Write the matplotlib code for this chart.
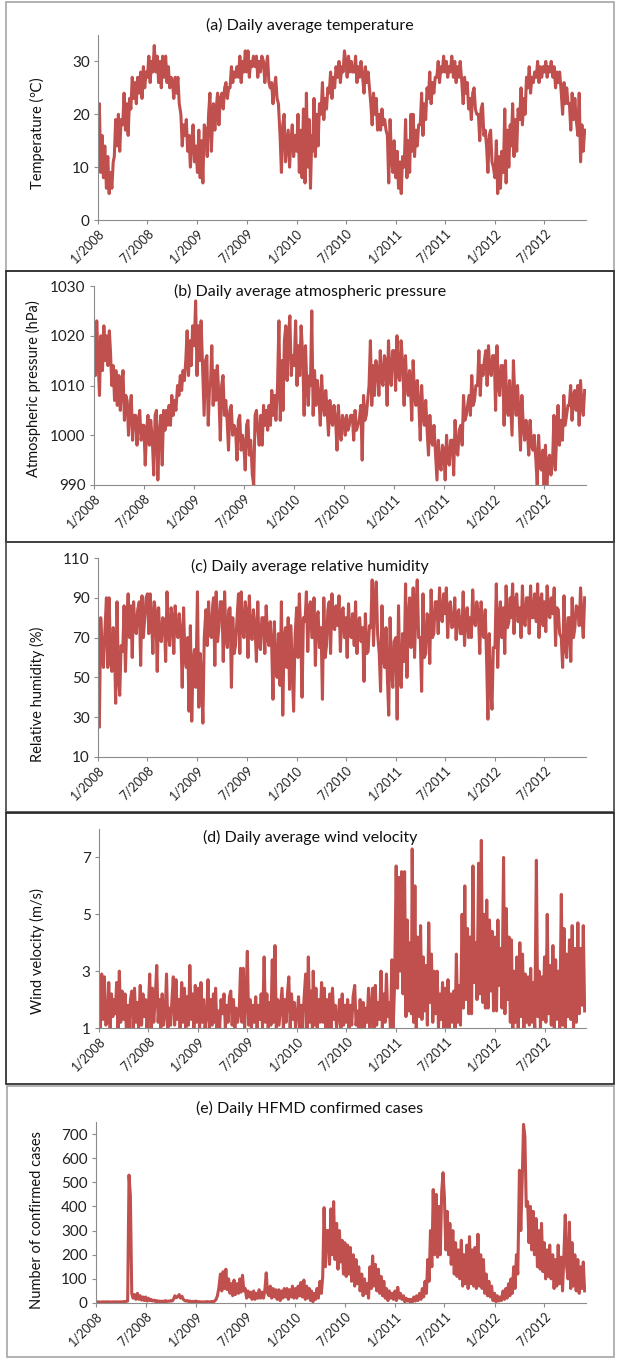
import pandas as pd
import matplotlib
matplotlib.use('Agg')
import matplotlib.pyplot as plt
from matplotlib.patches import Rectangle

plt.rcParams['font.family'] = ['Lato', 'DejaVu Sans']

# 6 readings per month (every 5 days), Jan 2008 .. Nov 2012
months = pd.date_range('2008-01-01', '2012-11-01', freq='MS')
day_offsets = [0, 5, 10, 15, 20, 25]

temperature = [
    12, 22, 9, 16, 8, 14,  6, 12, 5, 9, 6, 11,  12, 19, 14, 20, 13, 19,
    18, 24, 17, 22, 16, 23,  21, 27, 23, 26, 22, 27,  24, 28, 23, 29, 25, 28,
    27, 31, 26, 30, 28, 33,  28, 31, 26, 30, 25, 31,  27, 31, 26, 29, 25, 27,
    26, 23, 27, 24, 27, 22,  20, 14, 18, 16, 19, 13,  16, 10, 15, 18, 11, 14,
    9, 17, 8, 15, 7, 18,  17, 12, 20, 24, 13, 19,  22, 17, 21, 24, 18, 23,
    24, 21, 25, 26, 23, 25,  25, 29, 26, 28, 27, 29,  27, 31, 26, 30, 28, 32,
    28, 32, 27, 30, 29, 31,  29, 31, 27, 30, 28, 31,  30, 26, 29, 31, 26, 25,
    26, 22, 25, 27, 23, 22,  16, 9, 18, 20, 11, 14,  17, 10, 15, 18, 12, 16,
    13, 20, 9, 17, 8, 21,  7, 24, 10, 19, 6, 16,  13, 23, 12, 20, 14, 22,
    20, 26, 19, 23, 21, 25,  24, 28, 23, 27, 25, 29,  27, 30, 26, 29, 28, 32,
    30, 27, 31, 28, 30, 28,  28, 31, 26, 29, 27, 30,  27, 24, 29, 26, 28, 25,
    22, 18, 24, 20, 23, 17,  20, 17, 21, 18, 19, 17,  16, 7, 19, 12, 9, 15,
    8, 13, 6, 11, 5, 12,  10, 19, 8, 15, 9, 20,  13, 20, 12, 17, 14, 18,
    18, 24, 16, 22, 19, 25,  23, 28, 22, 26, 24, 27,  27, 30, 26, 29, 28, 31,
    28, 30, 27, 29, 28, 31,  27, 30, 26, 29, 27, 30,  26, 22, 27, 24, 26, 21,
    23, 19, 24, 25, 21, 20,  20, 15, 21, 22, 16, 17,  14, 9, 16, 17, 11, 10,
    8, 15, 5, 12, 6, 13,  9, 21, 7, 17, 10, 18,  14, 22, 12, 19, 13, 21,
    19, 25, 18, 23, 20, 27,  25, 29, 24, 27, 26, 28,  27, 30, 26, 29, 27, 29,
    28, 30, 27, 29, 28, 30,  27, 29, 25, 28, 26, 28,  24, 20, 26, 22, 25, 22,
    22, 17, 24, 19, 23, 19,  16, 24, 11, 18, 13, 17,
]

pressure = [
    1022, 1012, 1023, 1015, 1008, 1020,  1013, 1022, 1015, 1020, 1014, 1021,
    1017, 1010, 1014, 1007, 1013, 1006,  1012, 1005, 1010, 1013, 1003, 1008,
    1007, 1000, 1005, 1008, 999, 1004,  1004, 998, 1003, 1005, 999, 1002,
    1002, 994, 1001, 1004, 998, 1003,  999, 992, 1004, 1005, 991, 1000,
    1004, 994, 1005, 1001, 1005, 1002,  1006, 1002, 1008, 1004, 1007, 1005,
    1010, 1008, 1012, 1009, 1013, 1011,  1015, 1021, 1012, 1019, 1014, 1022,
    1018, 1027, 1012, 1022, 1015, 1023,  1013, 1004, 1015, 1016, 1002, 1010,
    1010, 1018, 1006, 1013, 1007, 1014,  1008, 999, 1010, 1012, 1004, 1007,
    1003, 997, 1005, 1006, 1000, 1002,  1001, 995, 1003, 1004, 997, 1000,
    998, 993, 1002, 1003, 996, 999,  992, 990, 1004, 1005, 1001, 998,
    1004, 998, 1006, 1002, 1005, 1001,  1006, 1002, 1009, 1004, 1008, 1003,
    1010, 1023, 1003, 1015, 1005, 1019,  1022, 1011, 1020, 1024, 1012, 1016,
    1014, 1023, 1010, 1018, 1012, 1022,  1016, 1004, 1018, 1010, 1006, 1012,
    1010, 1025, 1004, 1013, 1006, 1011,  1008, 1002, 1012, 1006, 1004, 1009,
    1005, 1000, 1007, 1003, 1002, 1006,  1003, 997, 1006, 1001, 999, 1004,
    1003, 1000, 1004, 1001, 1002, 1004,  1004, 999, 1005, 1001, 1002, 1003,
    1006, 995, 1008, 1003, 1004, 1007,  1010, 1019, 1006, 1014, 1008, 1015,
    1013, 1008, 1017, 1011, 1010, 1016,  1015, 1006, 1019, 1012, 1010, 1017,
    1017, 1009, 1020, 1012, 1011, 1019,  1014, 1006, 1016, 1010, 1008, 1013,
    1010, 1003, 1015, 1008, 1006, 1011,  1006, 999, 1010, 1004, 1002, 1007,
    1001, 996, 1004, 999, 998, 1002,  996, 991, 999, 994, 993, 998,
    997, 991, 1000, 995, 994, 999,  999, 992, 1003, 997, 996, 1001,
    1002, 998, 1008, 1003, 1004, 1006,  1008, 1004, 1012, 1006, 1007, 1010,
    1010, 1017, 1008, 1014, 1012, 1015,  1017, 1010, 1018, 1013, 1012, 1016,
    1016, 1005, 1018, 1010, 1008, 1014,  1014, 1002, 1015, 1006, 1004, 1011,
    1006, 1000, 1015, 1008, 1004, 1010,  1004, 997, 1008, 1002, 999, 1003,
    1001, 996, 1003, 998, 997, 1000,  995, 990, 1000, 994, 993, 997,
    990, 998, 989, 995, 996, 992,  995, 1004, 993, 1000, 1006, 998,
    1003, 999, 1008, 1002, 1004, 1006,  1006, 1010, 1003, 1008, 1009, 1005,
    1010, 1002, 1011, 1006, 1004, 1009,
]

humidity = [
    74, 25, 80, 65, 55, 72,  90, 55, 90, 60, 53, 75,  70, 37, 88, 50, 41, 66,
    63, 86, 53, 78, 92, 70,  86, 60, 88, 75, 72, 84,  88, 56, 91, 70, 80, 90,
    92, 72, 92, 80, 62, 88,  82, 53, 85, 70, 68, 80,  79, 58, 93, 72, 66, 85,
    80, 62, 86, 74, 70, 82,  72, 45, 85, 60, 55, 70,  33, 76, 28, 58, 64, 45,
    93, 35, 62, 50, 27, 70,  84, 66, 88, 72, 70, 86,  90, 56, 93, 68, 75, 88,
    88, 58, 93, 70, 65, 84,  85, 45, 80, 62, 66, 78,  92, 62, 93, 75, 70, 88,
    82, 60, 91, 72, 69, 84,  75, 58, 88, 66, 64, 80,  80, 62, 86, 70, 66, 78,
    67, 39, 78, 55, 50, 72,  46, 88, 31, 70, 75, 55,  80, 44, 76, 55, 33, 70,
    85, 60, 92, 72, 40, 80,  78, 93, 63, 85, 88, 70,  70, 90, 56, 80, 83, 65,
    75, 39, 90, 60, 66, 84,  88, 62, 92, 75, 74, 86,  76, 91, 63, 82, 85, 70,
    80, 60, 87, 72, 70, 82,  66, 88, 62, 78, 80, 68,  75, 48, 82, 62, 63, 76,
    75, 99, 66, 88, 98, 72,  62, 43, 86, 60, 55, 75,  50, 31, 80, 55, 45, 68,
    70, 29, 86, 50, 45, 72,  58, 97, 50, 80, 90, 65,  75, 95, 60, 85, 99, 70,
    70, 43, 92, 60, 62, 82,  80, 57, 94, 70, 72, 88,  88, 72, 95, 80, 78, 92,
    82, 95, 70, 86, 88, 75,  76, 90, 69, 82, 84, 72,  72, 93, 66, 80, 85, 70,
    80, 70, 94, 78, 76, 88,  82, 62, 88, 72, 70, 84,  60, 29, 72, 45, 34, 65,
    65, 97, 55, 80, 88, 70,  85, 62, 96, 75, 78, 90,  80, 97, 72, 88, 92, 78,
    85, 70, 96, 78, 76, 90,  90, 72, 96, 80, 80, 92,  78, 97, 70, 88, 92, 76,
    88, 73, 96, 82, 80, 90,  82, 95, 66, 85, 84, 72,  70, 55, 91, 65, 60, 80,
    80, 58, 90, 70, 75, 86,  85, 76, 95, 80, 70, 90,
]

wind = [
    1.9, 1.0, 2.9, 1.3, 2.8, 1.1,  1.2, 2.6, 1.0, 2.2, 1.4, 2.0,  1.5, 2.6, 1.0, 3.0, 1.2, 2.3,
    1.3, 2.2, 0.9, 1.8, 1.0, 2.0,  2.3, 1.0, 2.4, 1.2, 1.9, 1.0,  2.5, 1.1, 2.2, 1.4, 2.0, 1.0,
    1.6, 2.9, 1.0, 2.4, 1.2, 2.0,  3.2, 1.2, 2.0, 0.9, 2.2, 1.1,  1.5, 2.9, 1.0, 1.7, 1.1, 2.0,
    2.8, 1.1, 2.7, 1.3, 2.0, 1.0,  2.6, 1.2, 2.4, 1.0, 2.1, 1.1,  3.2, 1.3, 2.2, 1.0, 2.5, 1.2,
    2.4, 0.9, 2.6, 1.2, 2.0, 1.0,  1.4, 2.7, 1.0, 2.0, 1.1, 2.2,  1.2, 2.4, 0.9, 1.6, 1.0, 2.0,
    1.5, 2.2, 1.0, 1.8, 1.2, 2.1,  2.3, 1.1, 2.0, 1.0, 1.7, 1.2,  1.6, 3.1, 1.2, 3.1, 1.0, 2.0,
    3.7, 1.1, 2.0, 1.0, 1.8, 1.2,  2.1, 1.0, 1.8, 1.3, 2.2, 1.0,  3.5, 1.2, 2.2, 1.0, 1.9, 1.1,
    3.4, 1.2, 3.9, 1.0, 2.0, 1.1,  1.8, 2.4, 1.0, 2.0, 1.2, 2.2,  2.8, 1.0, 2.2, 1.3, 1.9, 1.0,
    1.5, 2.1, 0.9, 1.8, 1.0, 2.0,  2.9, 1.0, 3.5, 1.2, 2.3, 1.0,  3.0, 1.1, 2.4, 1.0, 2.0, 1.2,
    2.6, 1.2, 2.4, 0.9, 2.0, 1.0,  2.2, 1.0, 2.4, 1.3, 1.8, 1.0,  1.4, 2.0, 1.0, 2.2, 1.1, 1.8,
    1.2, 2.0, 1.0, 1.8, 1.1, 2.1,  2.5, 1.1, 1.6, 0.9, 2.0, 1.0,  1.9, 1.0, 1.7, 1.2, 2.4, 1.0,
    1.6, 2.4, 1.0, 2.5, 1.1, 1.9,  1.3, 3.0, 1.0, 2.2, 1.2, 2.9,  1.4, 1.9, 0.9, 3.4, 1.0, 2.5,
    6.7, 2.4, 6.3, 3.0, 6.5, 2.2,  6.5, 1.4, 4.8, 1.6, 4.0, 1.5,  7.3, 1.2, 6.0, 0.9, 4.2, 1.4,
    4.6, 1.3, 3.5, 1.6, 3.2, 1.1,  4.7, 1.9, 3.6, 1.2, 3.0, 1.5,  3.0, 1.0, 2.2, 1.3, 2.6, 0.9,
    2.4, 0.9, 2.7, 1.0, 2.2, 1.2,  2.3, 1.0, 3.6, 1.2, 2.5, 1.1,  5.0, 1.7, 6.0, 2.0, 4.5, 1.5,
    4.2, 1.5, 6.7, 2.6, 4.0, 2.0,  6.8, 2.2, 7.6, 1.9, 5.0, 1.7,  5.5, 1.7, 4.8, 2.3, 4.4, 1.6,
    4.2, 1.6, 4.8, 2.5, 3.8, 1.7,  7.0, 1.5, 5.2, 2.0, 4.2, 1.2,  4.1, 0.9, 3.0, 1.2, 3.5, 1.0,
    4.0, 1.4, 3.6, 1.0, 2.9, 1.2,  2.8, 1.1, 3.1, 1.2, 2.6, 1.0,  6.9, 1.4, 3.0, 1.0, 2.8, 1.3,
    3.5, 1.2, 5.0, 1.5, 3.2, 1.1,  3.9, 1.0, 3.4, 1.3, 3.0, 1.0,  5.7, 1.1, 4.5, 1.0, 3.6, 1.4,
    4.1, 1.3, 4.6, 0.9, 3.8, 1.2,  4.7, 1.5, 3.8, 1.8, 4.6, 1.6,
]

cases = [
    5, 4, 5, 3, 4, 5,  4, 5, 4, 5, 4, 4,  5, 4, 5, 4, 5, 4,
    5, 4, 6, 5, 7, 8,  530, 445, 40, 20, 35, 15,  40, 15, 30, 12, 25, 10,
    25, 8, 20, 10, 15, 8,  12, 6, 10, 5, 8, 6,  8, 5, 10, 6, 8, 7,
    10, 8, 15, 30, 22, 25,  35, 20, 28, 15, 10, 8,  10, 6, 8, 5, 7, 5,
    8, 5, 6, 4, 5, 4,  5, 4, 6, 5, 4, 6,  6, 5, 8, 15, 30, 60,
    120, 50, 130, 60, 140, 55,  100, 40, 80, 30, 95, 35,  80, 40, 100, 45, 115, 50,
    60, 20, 50, 25, 45, 15,  50, 15, 40, 20, 55, 20,  45, 20, 55, 125, 40, 30,
    70, 20, 60, 25, 55, 15,  55, 10, 50, 20, 60, 25,  60, 15, 55, 25, 70, 20,
    60, 20, 70, 30, 85, 25,  95, 15, 70, 20, 60, 10,  50, 5, 40, 15, 60, 20,
    90, 40, 110, 395, 150, 300,  300, 160, 390, 200, 420, 180,  330, 140, 300, 170, 260, 120,
    250, 110, 240, 120, 230, 90,  200, 70, 180, 80, 150, 50,  120, 30, 100, 40, 80, 20,
    150, 60, 195, 70, 160, 50,  140, 40, 110, 30, 90, 20,  60, 10, 50, 20, 40, 15,
    50, 10, 65, 20, 40, 15,  30, 5, 20, 8, 15, 3,  15, 5, 25, 8, 30, 10,
    40, 15, 60, 25, 90, 40,  180, 90, 300, 150, 470, 200,  450, 190, 400, 200, 460, 540,
    440, 220, 380, 200, 330, 160,  300, 120, 250, 110, 220, 100,  260, 70, 200, 80, 240, 60,
    275, 80, 220, 70, 230, 60,  285, 70, 200, 60, 180, 40,  120, 30, 90, 25, 70, 10,
    40, 5, 30, 8, 25, 10,  50, 15, 60, 20, 80, 30,  100, 40, 150, 60, 200, 120,
    550, 300, 500, 740, 690, 400,  420, 250, 400, 220, 380, 200,  350, 150, 300, 140, 330, 130,
    250, 100, 220, 110, 240, 100,  200, 60, 180, 70, 240, 80,  190, 50, 200, 365, 150, 100,
    335, 60, 250, 70, 200, 50,  180, 40, 150, 60, 170, 50,
]

dates = [m + pd.Timedelta(days=d) for m in months for d in day_offsets]
tick_dates = pd.date_range('2008-01-01', '2012-07-01', freq='6MS')
tick_labels = [f'{d.month}/{d.year}' for d in tick_dates]

W, H = 622, 1366
fig = plt.figure(figsize=(W / 100, H / 100), dpi=100)
red = '#c0504d'
grey = '#8c8c8c'

panels = [
    # values, ylim, yticks, title, ylabel, axes px (l,t,r,b), box px, box colour, title y, ylabel xy
    (temperature, (0, 35), [0, 10, 20, 30], '(a) Daily average temperature',
     'Temperature (\u2103)', (98, 35, 586, 220), (6, 2, 614, 271), '#a6a6a6', 25, (37, 133)),
    (pressure, (990, 1030), [990, 1000, 1010, 1020, 1030], '(b) Daily average atmospheric pressure',
     'Atmospheric pressure (hPa)', (94, 286, 586, 485), (6, 271, 614, 542), '#222222', 291, (33, 389)),
    (humidity, (10, 110), [10, 30, 50, 70, 90, 110], '(c) Daily average relative humidity',
     'Relative humidity (%)', (98, 558, 586, 757), (6, 542, 614, 812), '#444444', 566, (37, 694)),
    (wind, (1, 8), [1, 3, 5, 7], '(d) Daily average wind velocity',
     'Wind velocity (m/s)', (99, 829, 586, 1028), (6, 813, 614, 1084), '#222222', 837, (37, 951)),
    (cases, (0, 750), list(range(0, 800, 100)), '(e) Daily HFMD confirmed cases',
     'Number of confirmed cases', (96, 1122, 586, 1303), (7, 1086, 614, 1357), '#a6a6a6', 1108, (37, 1220)),
]

for vals, ylim, yticks, title, ylabel, ax_px, box_px, box_col, title_y, lab_xy in panels:
    l, t, r, b = ax_px
    ax = fig.add_axes([l / W, 1 - b / H, (r - l) / W, (b - t) / H])
    ax.plot(dates, vals, color=red, lw=2.2)
    ax.set_xlim(dates[0], dates[-1] + pd.Timedelta(days=5))
    ax.set_ylim(*ylim)
    ax.set_yticks(yticks)
    ax.set_xticks(tick_dates)
    ax.set_xticklabels(tick_labels, rotation=45, ha='right', va='top', rotation_mode='anchor')
    for s in ['top', 'right']:
        ax.spines[s].set_visible(False)
    for s in ['left', 'bottom']:
        ax.spines[s].set_color(grey)
        ax.spines[s].set_linewidth(0.8)
    ax.tick_params(axis='y', length=3, color=grey, labelsize=11, labelcolor='#222222', pad=3)
    ax.tick_params(axis='x', length=3, color=grey, labelsize=9, labelcolor='#222222', pad=2)

    bl, bt, br, bb = box_px
    fig.add_artist(Rectangle((bl / W, 1 - bb / H), (br - bl) / W, (bb - bt) / H,
                             transform=fig.transFigure, fill=False, edgecolor=box_col, lw=1.2))
    fig.text(310 / W, 1 - title_y / H, title, ha='center', va='center', fontsize=11.5, color='#111111')
    fig.text(lab_xy[0] / W, 1 - lab_xy[1] / H, ylabel, ha='center', va='center', rotation=90,
             fontsize=10.5, color='#111111')

fig.savefig('out.png', dpi=100)
